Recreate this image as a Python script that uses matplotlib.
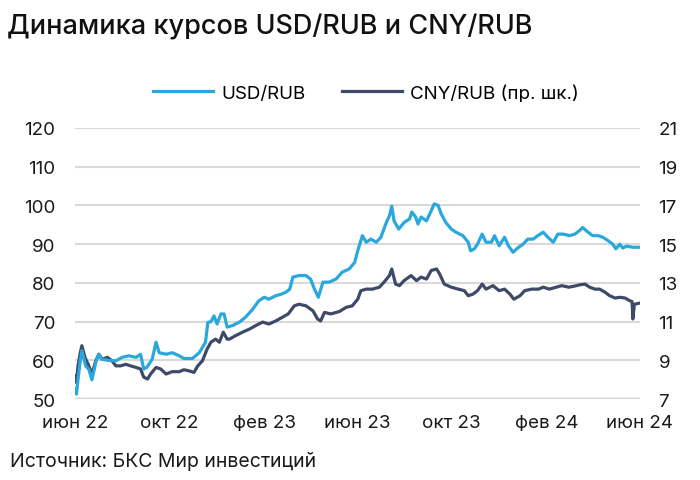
import matplotlib
matplotlib.use("Agg")
import matplotlib.pyplot as plt
import pandas as pd

plt.rcParams['font.family'] = ['Inter', 'DejaVu Sans']

# USD/RUB, left axis
usd_dates = [
    "2022-06-01", "2022-06-03", "2022-06-05", "2022-06-08", "2022-06-10", "2022-06-15",
    "2022-06-19", "2022-06-23", "2022-06-28", "2022-07-02", "2022-07-06", "2022-07-15",
    "2022-07-24", "2022-08-01", "2022-08-10", "2022-08-19", "2022-08-25", "2022-08-29",
    "2022-09-02", "2022-09-09", "2022-09-14", "2022-09-18", "2022-09-27", "2022-10-05",
    "2022-10-14", "2022-10-20", "2022-10-31", "2022-11-09", "2022-11-17", "2022-11-20",
    "2022-11-24", "2022-11-28", "2022-12-02", "2022-12-07", "2022-12-11", "2022-12-15",
    "2022-12-22", "2022-12-31", "2023-01-08", "2023-01-17", "2023-01-25", "2023-02-01",
    "2023-02-07", "2023-02-16", "2023-02-23", "2023-03-01", "2023-03-06", "2023-03-10",
    "2023-03-18", "2023-03-27", "2023-04-02", "2023-04-07", "2023-04-12", "2023-04-18",
    "2023-04-26", "2023-05-05", "2023-05-13", "2023-05-22", "2023-05-29", "2023-06-02",
    "2023-06-08", "2023-06-13", "2023-06-19", "2023-06-26", "2023-07-02", "2023-07-09",
    "2023-07-13", "2023-07-16", "2023-07-19", "2023-07-25", "2023-08-01", "2023-08-08",
    "2023-08-11", "2023-08-16", "2023-08-19", "2023-08-23", "2023-08-30", "2023-09-05",
    "2023-09-09", "2023-09-14", "2023-09-18", "2023-09-24", "2023-10-01", "2023-10-07",
    "2023-10-16", "2023-10-23", "2023-10-26", "2023-10-31", "2023-11-04", "2023-11-10",
    "2023-11-15", "2023-11-22", "2023-11-26", "2023-12-02", "2023-12-09", "2023-12-14",
    "2023-12-20", "2023-12-27", "2024-01-02", "2024-01-08", "2024-01-15", "2024-01-21",
    "2024-01-28", "2024-02-03", "2024-02-10", "2024-02-16", "2024-02-23", "2024-03-02",
    "2024-03-09", "2024-03-15", "2024-03-19", "2024-03-26", "2024-04-01", "2024-04-08",
    "2024-04-14", "2024-04-21", "2024-04-27", "2024-05-01", "2024-05-06", "2024-05-10",
    "2024-05-15", "2024-05-23", "2024-06-01",
]
usd_values = [
    52.6, 51.3, 55.0, 60.0, 62.5, 58.6,
    57.7, 55.0, 59.5, 61.6, 60.3, 60.0,
    59.9, 60.8, 61.2, 60.8, 61.6, 57.8,
    58.2, 60.3, 64.7, 62.0, 61.6, 62.0,
    61.2, 60.5, 60.5, 62.0, 64.7, 69.8,
    70.0, 71.5, 69.4, 72.0, 72.0, 68.6,
    69.0, 69.9, 71.2, 73.2, 75.4, 76.3,
    75.8, 76.7, 77.1, 77.6, 78.4, 81.5,
    81.9, 81.9, 81.0, 78.4, 76.3, 80.2,
    80.2, 81.0, 82.8, 83.6, 85.3, 88.3,
    92.2, 90.5, 91.3, 90.5, 91.8, 95.6,
    97.3, 99.8, 96.0, 93.9, 95.6, 96.5,
    98.3, 97.0, 95.2, 97.0, 96.0, 98.6,
    100.4, 100.0, 97.8, 95.6, 93.9, 93.1,
    92.2, 90.5, 88.3, 88.8, 90.0, 92.6,
    90.5, 90.5, 92.2, 89.6, 91.8, 89.6,
    87.9, 89.2, 90.0, 91.3, 91.3, 92.2,
    93.1, 91.8, 90.5, 92.6, 92.6, 92.2,
    92.6, 93.5, 94.3, 93.1, 92.2, 92.2,
    91.8, 90.9, 90.0, 88.8, 90.0, 89.0,
    89.5, 89.2, 89.2,
]

# CNY/RUB, right axis
cny_dates = [
    "2022-06-01", "2022-06-03", "2022-06-05", "2022-06-08", "2022-06-10", "2022-06-14",
    "2022-06-19", "2022-06-23", "2022-06-28", "2022-07-02", "2022-07-06", "2022-07-13",
    "2022-07-19", "2022-07-24", "2022-07-30", "2022-08-06", "2022-08-12", "2022-08-19",
    "2022-08-25", "2022-08-29", "2022-09-03", "2022-09-07", "2022-09-14", "2022-09-20",
    "2022-09-27", "2022-10-05", "2022-10-14", "2022-10-20", "2022-10-27", "2022-11-02",
    "2022-11-07", "2022-11-13", "2022-11-19", "2022-11-24", "2022-11-30", "2022-12-05",
    "2022-12-10", "2022-12-15", "2022-12-18", "2022-12-26", "2023-01-04", "2023-01-13",
    "2023-01-21", "2023-01-30", "2023-02-07", "2023-02-16", "2023-02-25", "2023-03-04",
    "2023-03-12", "2023-03-18", "2023-03-27", "2023-04-05", "2023-04-11", "2023-04-15",
    "2023-04-20", "2023-04-28", "2023-05-09", "2023-05-18", "2023-05-26", "2023-06-02",
    "2023-06-06", "2023-06-13", "2023-06-21", "2023-06-30", "2023-07-06", "2023-07-13",
    "2023-07-16", "2023-07-21", "2023-07-26", "2023-08-01", "2023-08-10", "2023-08-17",
    "2023-08-23", "2023-08-30", "2023-09-05", "2023-09-12", "2023-09-16", "2023-09-22",
    "2023-10-01", "2023-10-10", "2023-10-18", "2023-10-23", "2023-10-29", "2023-11-04",
    "2023-11-10", "2023-11-15", "2023-11-24", "2023-12-02", "2023-12-09", "2023-12-16",
    "2023-12-21", "2023-12-29", "2024-01-04", "2024-01-13", "2024-01-22", "2024-01-28",
    "2024-02-05", "2024-02-14", "2024-02-21", "2024-03-01", "2024-03-09", "2024-03-15",
    "2024-03-22", "2024-03-28", "2024-04-04", "2024-04-10", "2024-04-17", "2024-04-23",
    "2024-04-30", "2024-05-06", "2024-05-13", "2024-05-19", "2024-05-22", "2024-05-23",
    "2024-05-25", "2024-06-01",
]
cny_values = [
    8.20, 7.86, 8.72, 9.40, 9.76, 9.16,
    8.72, 8.30, 8.98, 9.32, 9.06, 9.16,
    8.98, 8.72, 8.72, 8.80, 8.72, 8.64,
    8.56, 8.14, 8.04, 8.30, 8.64, 8.56,
    8.30, 8.42, 8.42, 8.52, 8.46, 8.38,
    8.72, 8.98, 9.58, 9.94, 10.10, 9.94,
    10.46, 10.10, 10.10, 10.28, 10.46, 10.62,
    10.80, 10.98, 10.88, 11.04, 11.24, 11.40,
    11.82, 11.90, 11.82, 11.56, 11.14, 11.04,
    11.48, 11.40, 11.52, 11.74, 11.82, 12.16,
    12.60, 12.68, 12.68, 12.78, 13.04, 13.38,
    13.72, 12.94, 12.86, 13.12, 13.38, 13.12,
    13.30, 13.20, 13.64, 13.72, 13.46, 12.94,
    12.78, 12.68, 12.60, 12.34, 12.42, 12.60,
    12.94, 12.68, 12.86, 12.60, 12.68, 12.42,
    12.16, 12.34, 12.60, 12.68, 12.68, 12.78,
    12.68, 12.78, 12.86, 12.78, 12.84, 12.90,
    12.94, 12.78, 12.68, 12.68, 12.52, 12.34,
    12.22, 12.26, 12.22, 12.08, 12.04, 11.14,
    11.90, 11.96,
]

tick_dates = ["2022-06-01", "2022-10-01", "2023-02-01", "2023-06-01",
              "2023-10-01", "2024-02-01", "2024-06-01"]
tick_labels = ["июн 22", "окт 22", "фев 23", "июн 23", "окт 23", "фев 24", "июн 24"]

light = "#2aa8de"
dark = "#3e4a68"
grid_c = "#d9d9d9"

fig = plt.figure(figsize=(7, 4.81), dpi=100)
ax = fig.add_axes([0.107, 0.168, 0.807, 0.564])
ax2 = ax.twinx()

l1, = ax.plot(pd.to_datetime(usd_dates), usd_values, color=light, lw=2.3, label="USD/RUB")
l2, = ax2.plot(pd.to_datetime(cny_dates), cny_values, color=dark, lw=2.3, label="CNY/RUB (пр. шк.)")
# usd on top, grid below both
ax.set_zorder(ax2.get_zorder() + 1)
ax.patch.set_visible(False)

ax.set_ylim(50, 120)
ax2.set_ylim(7, 21)
ax.set_yticks(range(50, 121, 10))
ax2.set_yticks(range(7, 22, 2))
ax.set_xlim(pd.Timestamp("2022-06-01"), pd.Timestamp("2024-06-01"))
ax.set_xticks(pd.to_datetime(tick_dates))
ax.set_xticklabels(tick_labels)

for a in (ax, ax2):
    for s in a.spines.values():
        s.set_visible(False)
    a.tick_params(length=0, labelsize=13.5, colors="#1a1a1a")
ax.tick_params(axis="y", pad=14)
ax2.tick_params(axis="y", pad=13.5)
ax.tick_params(axis="x", pad=11)

for v in range(60, 121, 10):
    ax2.axhline(7 + (v - 50) / 5, color=grid_c, lw=1.5, zorder=0)
ax2.axhline(7, color="#cfcfcf", lw=2.5, zorder=0)

fig.legend(handles=[l1, l2], loc="center", bbox_to_anchor=(0.523, 0.805), ncol=2,
           frameon=False, fontsize=13.5, handlelength=3.2, columnspacing=1.9,
           handletextpad=0.45)

fig.text(0.010, 0.942, "Динамика курсов USD/RUB и CNY/RUB", fontsize=19.5,
         fontweight="medium", va="center", ha="left", color="#111111")
fig.text(0.015, 0.04, "Источник: БКС Мир инвестиций", fontsize=14,
         va="center", ha="left", color="#1a1a1a")

fig.savefig("out.png", dpi=100)
